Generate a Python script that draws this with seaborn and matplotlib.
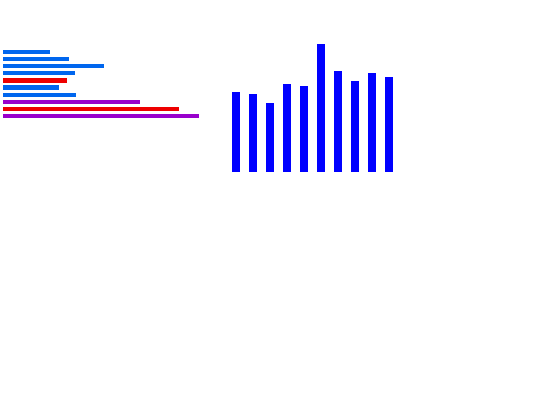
import matplotlib
matplotlib.use("Agg")
import matplotlib.pyplot as plt
import seaborn as sns
import pandas as pd

# Horizontal bar data (top to bottom)
h_labels = ["h1", "h2", "h3", "h4", "h5", "h6", "h7", "h8", "h9", "h10"]
h_values = [46.7, 66, 101, 71.7, 64, 56, 72.7, 136.7, 175.7, 196]
h_colors = ["#0066ee", "#0066ee", "#0066ee", "#0066ee", "#ee0000",
            "#0066ee", "#0066ee", "#9900cc", "#ee0000", "#9900cc"]

# Vertical bar data (left to right)
v_labels = ["v1", "v2", "v3", "v4", "v5", "v6", "v7", "v8", "v9", "v10"]
v_values = [79.4, 77.7, 69, 87.4, 85.7, 127.7, 100.7, 90.4, 99, 94.4]
v_color = "#0000ff"

sns.set_theme(style="white")
W, H = 540, 405
fig = plt.figure(figsize=(W / 100, H / 100), dpi=100)
fig.patch.set_facecolor("white")


def px_axes(x0, y0, x1, y1):
    return fig.add_axes([x0 / W, 1 - y1 / H, (x1 - x0) / W, (y1 - y0) / H])


# Left: horizontal bars
ax1 = px_axes(3.3, 48.1, 203.3, 119.9)
dfh = pd.DataFrame({"label": h_labels, "value": h_values})
sns.barplot(data=dfh, x="value", y="label", hue="label", palette=h_colors,
            width=0.6, legend=False, ax=ax1, saturation=1, order=h_labels)
ax1.set_xlim(0, 200)
ax1.set_ylim(9.5, -0.5)

# Right: vertical bars
ax2 = px_axes(227.8, 41.7, 397.2, 171.7)
dfv = pd.DataFrame({"label": v_labels, "value": v_values})
sns.barplot(data=dfv, x="label", y="value", color=v_color, width=0.47,
            ax=ax2, saturation=1, order=v_labels)
ax2.set_ylim(0, 130)
ax2.set_xlim(-0.5, 9.5)

for ax in (ax1, ax2):
    ax.set_axis_off()
    for p in ax.patches:
        p.set_linewidth(0)

fig.savefig("out.png", dpi=100, facecolor="white")
